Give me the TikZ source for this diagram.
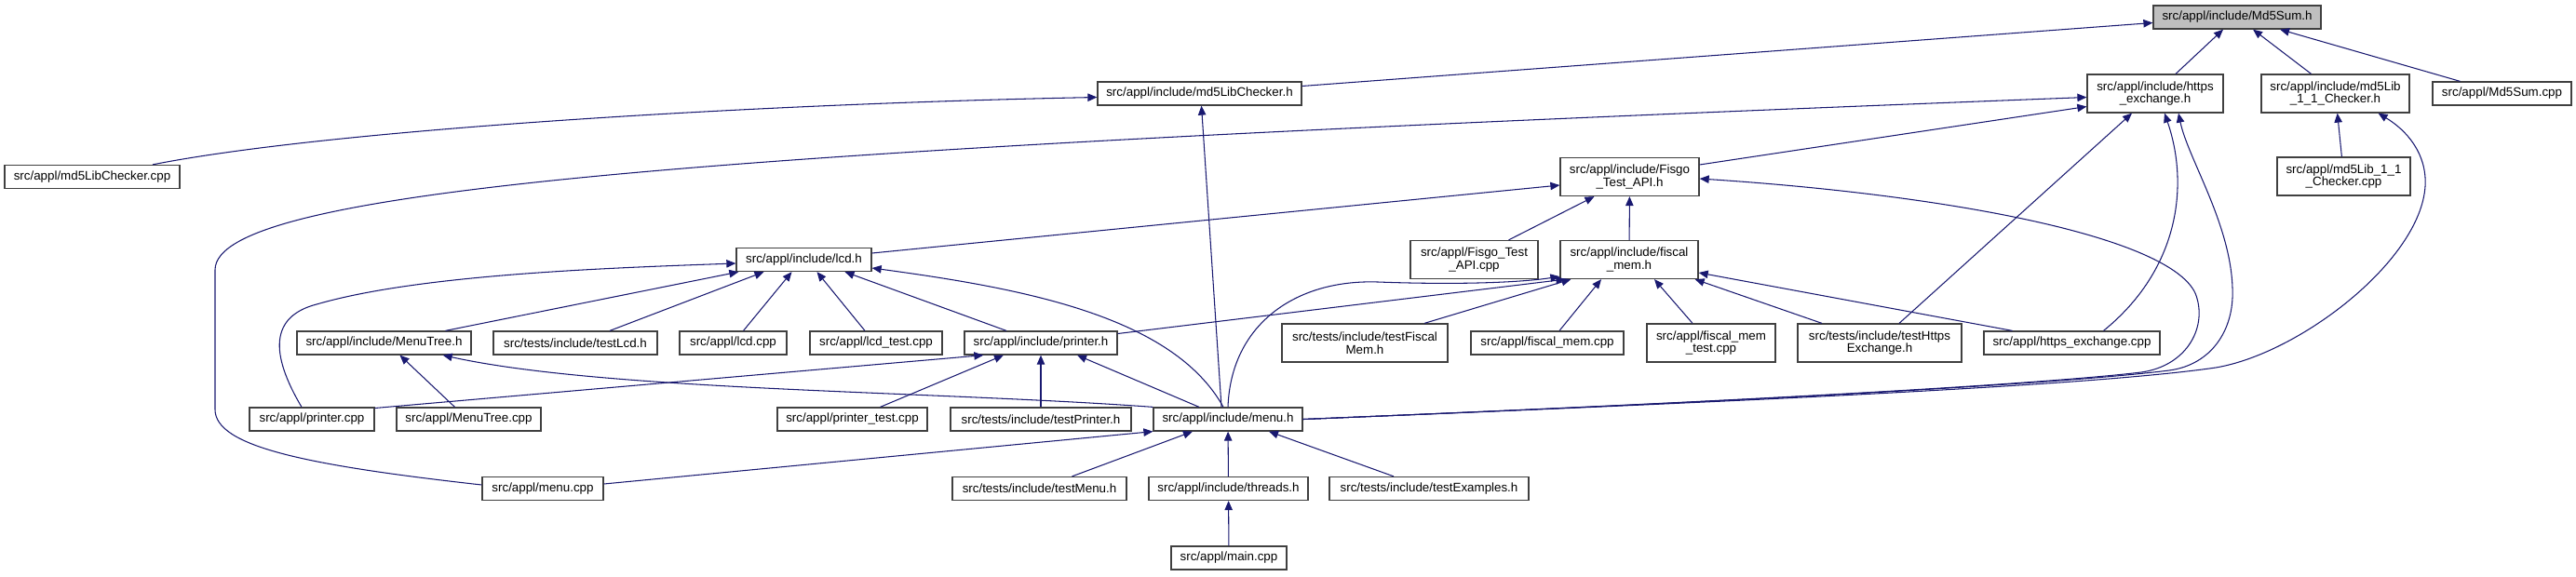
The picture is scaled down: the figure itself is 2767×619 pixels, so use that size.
\documentclass[tikz,border=0pt]{standalone}
\usepackage{fontspec}
\setmainfont{Liberation Sans}
\usetikzlibrary{arrows.meta,calc}
\definecolor{depblue}{RGB}{25,25,112}
\definecolor{boxline}{RGB}{64,64,64}
\definecolor{rootfill}{RGB}{191,191,191}
\tikzset{
  file/.style={draw=boxline, line width=0.75pt, fill=white, inner sep=0pt,
               font=\fontsize{7.6}{7.8}\selectfont, align=center, minimum height=14.2pt},
  file2/.style={file, minimum height=23.3pt},
  wd/.style={minimum width=#1*0.569pt},
  dep/.style={depblue, line width=0.6pt, -{Triangle[length=5.7pt,width=4.8pt]}},
}

\begin{document}
\begin{tikzpicture}[x=0.02cm,y=-0.02cm]
    \useasboundingbox (0,0) rectangle (2767,619);
    \node[file, wd=180, fill=rootfill] (md5sumh) at (2403,18.5) {src/appl/include/Md5Sum.h};
    \node[file, wd=219] (md5libchkh) at (1288.5,100.5) {src/appl/include/md5LibChecker.h};
    \node[file2, wd=146] (httpsh) at (2315,100.5) {src/appl/include/https\\\_exchange.h};
    \node[file2, wd=159] (md5lib11h) at (2508.5,100.5) {src/appl/include/md5Lib\\\_1\_1\_Checker.h};
    \node[file, wd=149] (md5sumcpp) at (2687.5,100.5) {src/appl/Md5Sum.cpp};
    \node[file, wd=188] (md5libchkcpp) at (99,190) {src/appl/md5LibChecker.cpp};
    \node[file2, wd=143] (md5lib11cpp) at (2517.5,189.5) {src/appl/md5Lib\_1\_1\\\_Checker.cpp};
    \node[file2, wd=149] (fisgoh) at (1750.5,190) {src/appl/include/Fisgo\\\_Test\_API.h};
    \node[file2, wd=137] (fisgocpp) at (1583.5,279) {src/appl/Fisgo\_Test\\\_API.cpp};
    \node[file2, wd=148] (fiscalh) at (1750,279) {src/appl/include/fiscal\\\_mem.h};
    \node[file, wd=145] (lcdh) at (863.5,279) {src/appl/include/lcd.h};
    \node[file, wd=187] (menutreeh) at (412.5,368.5) {src/appl/include/MenuTree.h};
    \node[file, wd=176] (testlcdh) at (618,368.5) {src/tests/include/testLcd.h};
    \node[file, wd=115] (lcdcpp) at (787.5,368.5) {src/appl/lcd.cpp};
    \node[file, wd=142] (lcdtestcpp) at (941,368.5) {src/appl/lcd\_test.cpp};
    \node[file, wd=164] (printerh) at (1118,368.5) {src/appl/include/printer.h};
    \node[file2, wd=178] (testfiscalh) at (1466,368.5) {src/tests/include/testFiscal\\Mem.h};
    \node[file, wd=164] (fiscalcpp) at (1662,368.5) {src/appl/fiscal\_mem.cpp};
    \node[file2, wd=138] (fiscaltestcpp) at (1838,368.5) {src/appl/fiscal\_mem\\\_test.cpp};
    \node[file2, wd=176] (testhttpsh) at (2019,368.5) {src/tests/include/testHttps\\Exchange.h};
    \node[file, wd=189] (httpscpp) at (2225.5,368.5) {src/appl/https\_exchange.cpp};
    \node[file, wd=134] (printercpp) at (335,450.5) {src/appl/printer.cpp};
    \node[file, wd=155] (menutreecpp) at (503.5,450.5) {src/appl/MenuTree.cpp};
    \node[file, wd=161] (printertestcpp) at (915.5,450.5) {src/appl/printer\_test.cpp};
    \node[file, wd=194] (testprinterh) at (1118,450.5) {src/tests/include/testPrinter.h};
    \node[file, wd=160] (menuh) at (1319,450.5) {src/appl/include/menu.h};
    \node[file, wd=130] (menucpp) at (583,525) {src/appl/menu.cpp};
    \node[file, wd=187] (testmenuh) at (1116.5,525) {src/tests/include/testMenu.h};
    \node[file, wd=171] (threadsh) at (1319.5,525) {src/appl/include/threads.h};
    \node[file, wd=214] (testexamplesh) at (1535,525) {src/tests/include/testExamples.h};
    \node[file, wd=124] (maincpp) at (1320,599.5) {src/appl/main.cpp};
    % Md5Sum.h and md5LibChecker.h
    \draw[dep] ($(md5libchkh.east)+(0,-8)$) -- ($(md5sumh.west)+(0,6)$);
    \draw[dep] ($(httpsh.north)+(22,0)$) -- ($(md5sumh.south)+(-15,0)$);
    \draw[dep] ($(md5lib11h.north)+(-26,0)$) -- ($(md5sumh.south)+(17,0)$);
    \draw[dep] ($(md5sumcpp.north)+(-45,0)$) -- ($(md5sumh.south)+(46,0)$);
    \draw[dep] ($(md5libchkcpp.north)+(65,0)$) .. controls (350,140) and (800,112) .. ($(md5libchkh.west)+(0,4)$);
    \draw[dep] ($(menuh.north)+(-7,0)$) -- ($(md5libchkh.south)+(2,0)$);
    \draw[dep] (md5lib11cpp) -- (md5lib11h);
    % https_exchange.h
    \draw[dep] ($(menucpp.west)+(0,-4)$) .. controls (330,500) and (231,480) .. (231,440) -- (231,290)
      .. controls (231,200) and (800,160) .. ($(httpsh.west)+(0,4)$);
    \draw[dep] ($(fisgoh.east)+(0,-13)$) -- ($(httpsh.west)+(0,14)$);
    \draw[dep] ($(testhttpsh.north)+(21,0)$) -- ($(httpsh.south)+(-25,0)$);
    \draw[dep] ($(httpscpp.north)+(34,0)$) .. controls (2340,290) and (2352,200) .. ($(httpsh.south)+(10,0)$);
    \draw[dep] (menuh.east) .. controls (1900,430) and (2220,412) .. (2330,398) .. controls (2375,392) and (2400,355) .. (2398,310)
      .. controls (2396,240) and (2350,170) .. ($(httpsh.south)+(25,0)$);
    \draw[dep] (menuh.east) .. controls (1900,430) and (2250,414) .. (2380,395) .. controls (2470,380) and (2600,280) .. (2605,200)
      .. controls (2607,165) and (2585,140) .. ($(md5lib11h.south)+(46,0)$);
    % Fisgo_Test_API.h
    \draw[dep] (menuh.east) .. controls (1900,430) and (2200,412) .. (2300,400) .. controls (2350,393) and (2372,350) .. (2358,315)
      .. controls (2330,255) and (2100,210) .. ($(fisgoh.east)+(0,2)$);
    \draw[dep] ($(lcdh.east)+(0,-7)$) -- ($(fisgoh.west)+(0,9)$);
    \draw[dep] ($(fisgocpp.north)+(37,0)$) -- ($(fisgoh.south)+(-38,0)$);
    \draw[dep] (fiscalh) -- (fisgoh);
    % lcd.h
    \draw[dep] ($(printercpp.north)+(-11,0)$) .. controls (290,380) and (290,340) .. (340,327)
      .. controls (450,295) and (650,288) .. ($(lcdh.west)+(0,4)$);
    \draw[dep] ($(menutreeh.north)+(66,0)$) -- ($(lcdh.south west)+(3,0)$);
    \draw[dep] ($(testlcdh.north)+(37,0)$) -- ($(lcdh.south)+(-43,0)$);
    \draw[dep] ($(lcdcpp.north)+(11,0)$) -- ($(lcdh.south)+(-13,0)$);
    \draw[dep] ($(lcdtestcpp.north)+(-12,0)$) -- ($(lcdh.south)+(14,0)$);
    \draw[dep] ($(printerh.north)+(-37,0)$) -- ($(lcdh.south)+(44,0)$);
    \draw[dep] ($(menuh.north)+(-5,0)$) .. controls (1260,340) and (1100,310) .. ($(lcdh.east)+(0,9)$);
    % fiscal_mem.h
    \draw[dep] ($(printerh.east)+(0,-10)$) -- ($(fiscalh.south west)+(6,0)$);
    \draw[dep] (menuh.north) .. controls (1322,350) and (1390,300) .. (1480,303)
      .. controls (1560,306) and (1630,304) .. ($(fiscalh.south west)+(0,-3)$);
    \draw[dep] ($(testfiscalh.north)+(64,0)$) -- ($(fiscalh.south west)+(12,0)$);
    \draw[dep] ($(fiscalcpp.north)+(13,0)$) -- ($(fiscalh.south)+(-30,0)$);
    \draw[dep] ($(fiscaltestcpp.north)+(-20,0)$) -- ($(fiscalh.south)+(27,0)$);
    \draw[dep] ($(testhttpsh.north)+(-62,0)$) -- ($(fiscalh.south east)+(-4,0)$);
    \draw[dep] ($(httpscpp.north)+(-64,0)$) -- ($(fiscalh.east)+(0,14)$);
    % printer.h and MenuTree.h
    \draw[dep] ($(printercpp.east)+(0,-12)$) -- ($(printerh.south west)+(21,0)$);
    \draw[dep] ($(printertestcpp.north)+(30,0)$) -- ($(printerh.south)+(-40,0)$);
    \draw[dep] (testprinterh) -- (printerh);
    \draw[dep] ($(menuh.north)+(-31,0)$) -- ($(printerh.south)+(39,0)$);
    \draw[dep] ($(menutreecpp.north)+(-15,0)$) -- ($(menutreeh.south)+(17,0)$);
    \draw[dep] (menuh.north west) .. controls (1000,420) and (650,420) .. ($(menutreeh.south east)+(-31,0)$);
    % menu.h and threads.h
    \draw[dep] ($(menucpp.east)+(0,-5)$) -- (menuh.south west);
    \draw[dep] ($(testmenuh.north)+(35,0)$) -- ($(menuh.south)+(-38,0)$);
    \draw[dep] (threadsh) -- (menuh);
    \draw[dep] ($(testexamplesh.north)+(-38,0)$) -- ($(menuh.south)+(44,0)$);
    \draw[dep] (maincpp) -- (threadsh);
  \end{tikzpicture}
\end{document}
